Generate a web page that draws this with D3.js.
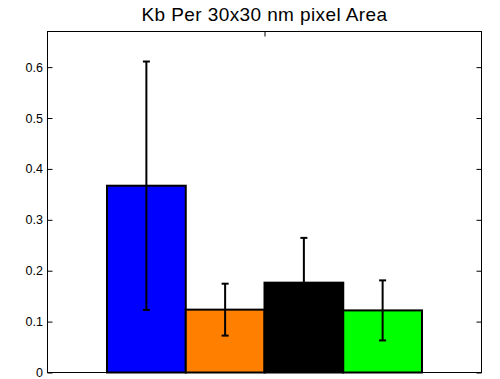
<!DOCTYPE html>
<html><head><meta charset="utf-8">
<script src="https://cdn.jsdelivr.net/npm/d3@7"></script>
<style>body{margin:0;background:#fff;} text{font-family:"Liberation Sans",Arial,sans-serif;}</style>
</head><body><svg id="c" width="500" height="379"></svg>
<script>
const categories = ["A","B","C","D"];
const values = [0.367, 0.1235, 0.1765, 0.122];
const errors = [0.244, 0.051, 0.088, 0.059];
const colors = ["#0000ff","#ff8000","#000000","#00ff00"];
const yTicks = [0,0.1,0.2,0.3,0.4,0.5,0.6];
const title = "Kb Per 30x30 nm pixel Area";

(function(){
const svg = d3.select("#c");
const L=47.5, R=481.5, T=31.5, B=372.5;
const y = d3.scaleLinear().domain([0,0.67]).range([B,T]);
const xg = d3.scaleLinear().domain([0.5,1.5]).range([L,R]);
const groupW = 315;
const cx = xg(1);
const x = d3.scaleBand().domain(categories).range([cx-groupW/2, cx+groupW/2]).padding(0);

svg.append("text").attr("x",cx).attr("y",20.5).attr("text-anchor","middle")
  .attr("font-size",19).attr("letter-spacing",0.4).text(title);

const g = svg.append("g");
g.selectAll("rect.bar").data(values).join("rect")
  .attr("x",(d,i)=>x(categories[i])).attr("width",x.bandwidth())
  .attr("y",d=>y(d)).attr("height",d=>y(0)-y(d))
  .attr("fill",(d,i)=>colors[i]).attr("stroke","#000").attr("stroke-width",2);

const eb = g.selectAll("g.eb").data(values).join("g");
eb.append("line").attr("x1",(d,i)=>x(categories[i])+x.bandwidth()/2).attr("x2",(d,i)=>x(categories[i])+x.bandwidth()/2)
  .attr("y1",(d,i)=>y(d-errors[i])).attr("y2",(d,i)=>y(d+errors[i])).attr("stroke","#000").attr("stroke-width",2);
[1,-1].forEach(s=>{
  eb.append("line").attr("x1",(d,i)=>x(categories[i])+x.bandwidth()/2-3.5).attr("x2",(d,i)=>x(categories[i])+x.bandwidth()/2+3.5)
    .attr("y1",(d,i)=>y(d+s*errors[i])).attr("y2",(d,i)=>y(d+s*errors[i])).attr("stroke","#000").attr("stroke-width",2);
});

svg.append("rect").attr("x",L).attr("y",T).attr("width",R-L).attr("height",B-T).attr("fill","none").attr("stroke","#000").attr("stroke-width",1);
const left = d3.axisLeft(y).tickValues(yTicks).tickSize(-5).tickPadding(4.5).tickFormat(d=>d===0?"0":d3.format(".1f")(d));
const lg = svg.append("g").attr("transform",`translate(${L},0)`).call(left);
lg.select(".domain").remove();
lg.selectAll("text").attr("font-size",12.5).attr("fill","#000").style("font-family","Liberation Sans, Arial, sans-serif");
const rightAx = d3.axisRight(y).tickValues(yTicks).tickSize(-5).tickFormat("");
const rg = svg.append("g").attr("transform",`translate(${R},0)`).call(rightAx);
rg.select(".domain").remove();
const topAx = d3.axisTop(xg).tickValues([1]).tickSize(-5).tickFormat("");
const tg = svg.append("g").attr("transform",`translate(0,${T})`).call(topAx);
tg.select(".domain").remove();
const botAx = d3.axisBottom(xg).tickValues([1]).tickSize(-5).tickFormat("");
const bg = svg.append("g").attr("transform",`translate(0,${B})`).call(botAx);
bg.select(".domain").remove();
})();
</script></body></html>
